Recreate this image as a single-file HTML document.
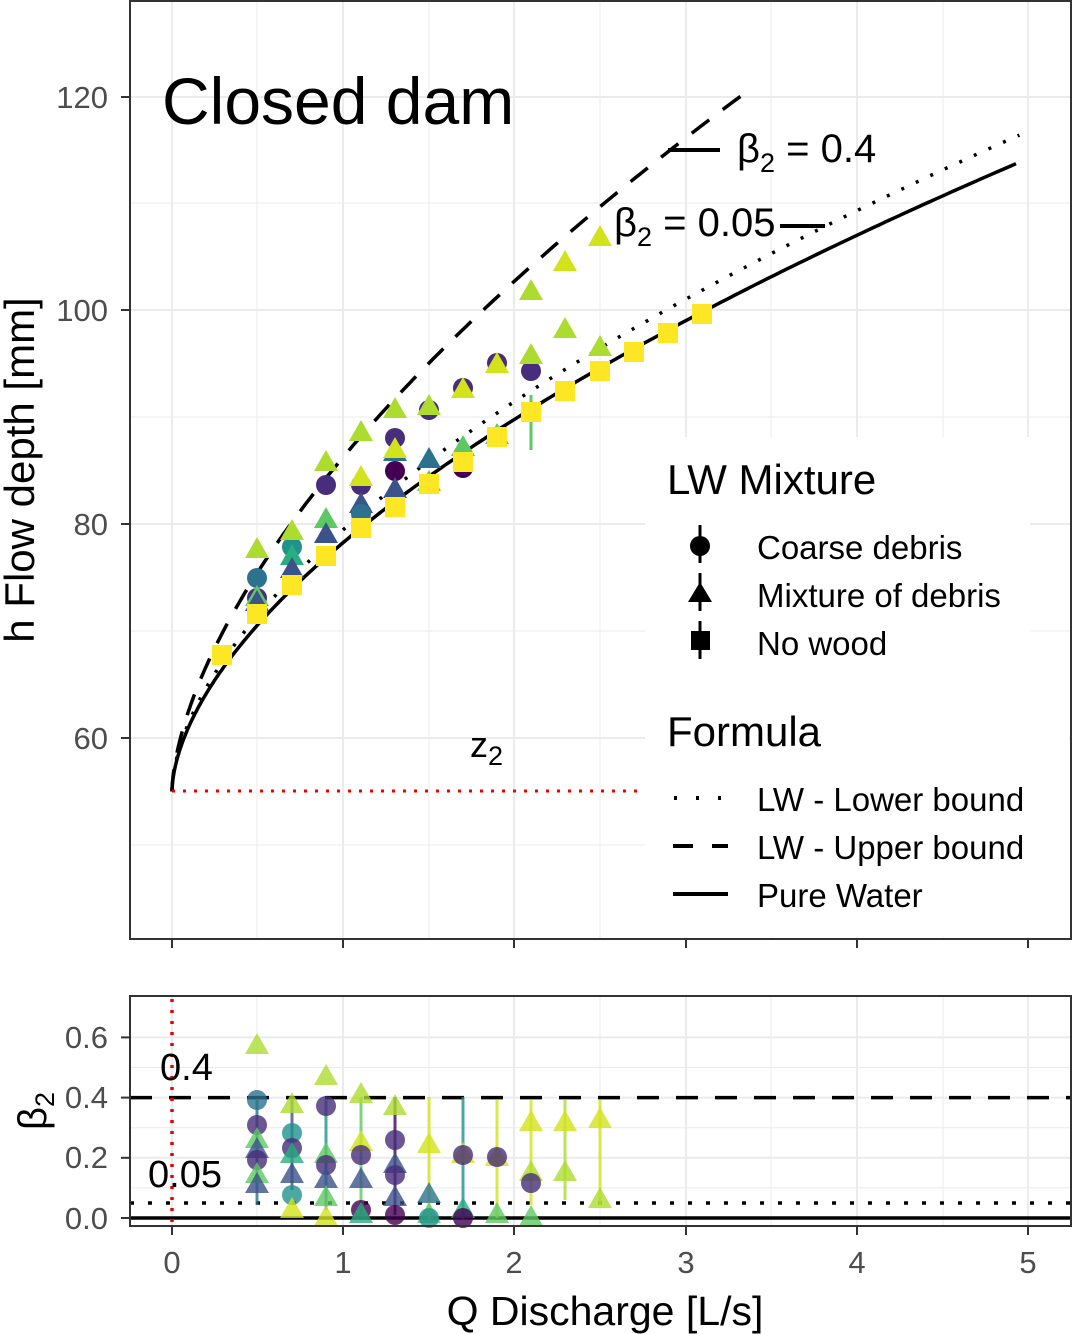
<!DOCTYPE html>
<html><head><meta charset="utf-8"><style>body{margin:0;background:#fff}svg{display:block}</style></head>
<body>
<svg id="s" width="1073" height="1334" xmlns="http://www.w3.org/2000/svg" font-family="Liberation Sans, sans-serif">
<rect width="1073" height="1334" fill="#fff"/>
<g id="grid" stroke="#ebebeb"></g>
<g id="curves" fill="none" stroke="#000" stroke-width="3.5"></g>
<line x1="172" y1="791" x2="640" y2="791" stroke="#e00" stroke-width="3" stroke-dasharray="3,8"/>
<g id="pts"></g>
<rect x="645" y="437" width="385" height="252" fill="#fff"/>
<rect x="645" y="689" width="424" height="248" fill="#fff"/>
<text x="667" y="494" font-size="42">LW Mixture</text>
<g stroke="#000" stroke-width="3"><line x1="700" y1="525" x2="700" y2="563"/><line x1="700" y1="573" x2="700" y2="611"/><line x1="700" y1="621" x2="700" y2="659"/></g>
<circle cx="700" cy="546" r="10"/><polygon points="700,582 712,602 688,602"/><rect x="691" y="631" width="19" height="19"/>
<g font-size="33"><text x="757" y="559">Coarse debris</text><text x="757" y="607">Mixture of debris</text><text x="757" y="655">No wood</text></g>
<text x="667" y="746" font-size="42">Formula</text>
<g stroke="#000" stroke-width="4"><line x1="674" y1="798" x2="730" y2="798" stroke-dasharray="3,19"/><line x1="673" y1="846" x2="728" y2="846" stroke-dasharray="20,19"/><line x1="673" y1="894" x2="728" y2="894"/></g>
<g font-size="33"><text x="757" y="811">LW - Lower bound</text><text x="757" y="859">LW - Upper bound</text><text x="757" y="907">Pure Water</text></g>
<text x="162" y="124" font-size="66">Closed dam</text>
<line x1="668" y1="150" x2="720" y2="150" stroke="#000" stroke-width="4"/>
<text x="737" y="162" font-size="40">β<tspan font-size="27" dy="10">2</tspan><tspan dy="-10"> = 0.4</tspan></text>
<line x1="780" y1="226" x2="825" y2="226" stroke="#000" stroke-width="4"/>
<text x="614" y="236" font-size="40">β<tspan font-size="27" dy="10">2</tspan><tspan dy="-10"> = 0.05</tspan></text>
<text x="470" y="757" font-size="36">z<tspan font-size="27" dy="8">2</tspan></text>
<rect x="130" y="1" width="941" height="938" fill="none" stroke="#333" stroke-width="2"/>
<rect x="130" y="996" width="941" height="230" fill="none" stroke="#333" stroke-width="2"/>
<g id="axes" stroke="#333" stroke-width="2"></g>
<g font-size="31" fill="#4d4d4d" text-anchor="end"><text x="108" y="108">120</text><text x="108" y="321">100</text><text x="108" y="535">80</text><text x="108" y="749">60</text>
<text x="108" y="1048">0.6</text><text x="108" y="1108">0.4</text><text x="108" y="1168">0.2</text><text x="108" y="1229">0.0</text></g>
<g font-size="31" fill="#4d4d4d" text-anchor="middle"><text x="172" y="1273">0</text><text x="343" y="1273">1</text><text x="514" y="1273">2</text><text x="686" y="1273">3</text><text x="857" y="1273">4</text><text x="1028" y="1273">5</text></g>
<text x="605" y="1325" font-size="41" text-anchor="middle">Q Discharge [L/s]</text>
<text transform="translate(34,470) rotate(-90)" font-size="42" text-anchor="middle">h Flow depth [mm]</text>
<text transform="translate(46,1111) rotate(-90)" font-size="40" text-anchor="middle">β<tspan font-size="27" dy="8">2</tspan></text>
<text x="160" y="1080" font-size="38">0.4</text>
<text x="148" y="1187" font-size="38">0.05</text>
</svg>
<script>
(function(){
const NS="http://www.w3.org/2000/svg";
function el(p,t,a){const e=document.createElementNS(NS,t);for(const k in a)e.setAttribute(k,a[k]);document.getElementById(p).appendChild(e);return e;}
const X=q=>172+q*171.2, Y=h=>738-(h-60)*10.68, Yb=b=>1218-b*301;
[172,343,514,686,857,1028].forEach(x=>{el('grid','line',{x1:x,y1:1,x2:x,y2:939,'stroke-width':2});el('grid','line',{x1:x,y1:996,x2:x,y2:1226,'stroke-width':2});});
[257,429,600,771,943].forEach(x=>{el('grid','line',{x1:x,y1:1,x2:x,y2:939,'stroke-width':1});el('grid','line',{x1:x,y1:996,x2:x,y2:1226,'stroke-width':1});});
[97,310,524,738].forEach(y=>el('grid','line',{x1:130,y1:y,x2:1071,y2:y,'stroke-width':2}));
[203,417,631,845].forEach(y=>el('grid','line',{x1:130,y1:y,x2:1071,y2:y,'stroke-width':1}));
[0,0.2,0.4,0.6].forEach(b=>el('grid','line',{x1:130,y1:Yb(b),x2:1071,y2:Yb(b),'stroke-width':2}));
[0.1,0.3,0.5].forEach(b=>el('grid','line',{x1:130,y1:Yb(b),x2:1071,y2:Yb(b),'stroke-width':1}));
[172,343,514,686,857,1028].forEach(x=>{el('axes','line',{x1:x,y1:939,x2:x,y2:948});el('axes','line',{x1:x,y1:1226,x2:x,y2:1235});});
[97,310,524,738].forEach(y=>el('axes','line',{x1:121,y1:y,x2:130,y2:y}));
[0,0.2,0.4,0.6].forEach(b=>el('axes','line',{x1:121,y1:Yb(b),x2:130,y2:Yb(b)}));
function curve(a,b,qmax,dash){let d='';for(let i=0;i<=200;i++){const q=qmax*Math.pow(i/200,1.6);const h=55+a*Math.pow(q,b);d+=(i?'L':'M')+X(q).toFixed(1)+','+Y(h).toFixed(1);}const p=el('curves','path',{d:d});if(dash)p.setAttribute('stroke-dasharray',dash);}
curve(23.3,0.58,4.93,null);
curve(24.5,0.575,4.95,'3,13');
curve(31.3,0.61,3.32,'22,17');
el('curves','line',{x1:130,y1:Yb(0),x2:1071,y2:Yb(0)});
el('curves','line',{x1:130,y1:Yb(0.4),x2:1071,y2:Yb(0.4),'stroke-dasharray':'22,17'});
el('curves','line',{x1:130,y1:Yb(0.05),x2:1071,y2:Yb(0.05),'stroke-dasharray':'4,14'});
el('curves','line',{x1:172,y1:999,x2:172,y2:1226,stroke:'#e00','stroke-dasharray':'3,8'});
function mk(g,shape,x,y,c,op){const o=op||1;if(shape=='c')el(g,'circle',{cx:x,cy:y,r:10,fill:c,'fill-opacity':o});
else if(shape=='t')el(g,'polygon',{points:x+','+(y-13)+' '+(x+12)+','+(y+8)+' '+(x-12)+','+(y+8),fill:c,'fill-opacity':o});
else el(g,'rect',{x:x-10,y:y-10,width:20,height:20,fill:c,'fill-opacity':o});}
const P='#472d7b',D='#440154',B='#3b528b',T='#2c728e',G='#21918c',E='#28ae80',L='#5ec962',YL='#addc30',K='#d2e21b',YY='#fde725';
el('pts','line',{x1:531,y1:395,x2:531,y2:450,stroke:L,'stroke-width':3});
const ptsTop=[
['c',257,578,T],['c',257,598,P],['t',257,598,L],['t',257,603,B],['t',257,550,YL],
['c',292,547,G],['t',292,557,E],['t',292,570,B],['t',292,532,YL],
['c',326,485,P],['t',326,520,L],['t',326,535,B],['t',326,463,YL],
['c',361,485,P],['t',361,478,K],['t',361,505,B],['c',361,514,T],['t',361,433,YL],
['c',395,438,P],['c',395,471,D],['t',395,453,T],['t',395,490,B],['t',395,410,YL],['t',395,450,K],
['c',429,410,P],['t',429,460,T],['t',429,483,L],['t',429,407,YL],
['c',463,388,P],['c',463,468,D],['t',463,448,L],['t',463,390,K],
['c',497,363,P],['t',497,436,L],['t',497,365,K],
['c',531,371,P],['t',531,292,YL],['t',531,356,YL],
['t',565,263,K],['t',565,330,YL],['t',600,238,K],['t',600,348,YL]];
ptsTop.forEach(p=>mk('pts',p[0],p[1],p[2],p[3]));
[[222,655],[257,614],[292,585],[326,556],[361,528],[395,507],[429,484],[463,462],[497,437],[531,412],[565,391],[600,371],[634,352],[668,333],[702,314]].forEach(p=>mk('pts','s',p[0],p[1],YY));
[[257,1100,1205,T],[292,1100,1190,B],[326,1100,1210,G],[361,1097,1215,L],[395,1097,1215,D],[429,1097,1220,K],[463,1097,1220,G],[497,1100,1218,K],[531,1100,1205,K],[565,1100,1200,YL],[600,1100,1205,K]].forEach(l=>el('pts','line',{x1:l[0],y1:l[1],x2:l[0],y2:l[2],stroke:l[3],'stroke-width':3,'stroke-opacity':.8}));
const ptsBot=[['t',257,1046,YL],['c',257,1100,T],['c',257,1125,P],['t',257,1140,L],['t',257,1150,B],['c',257,1160,P],['t',257,1175,L],['t',257,1185,B],
['t',292,1105,YL],['c',292,1133,G],['c',292,1148,P],['t',292,1155,E],['t',292,1175,B],['c',292,1195,G],['t',292,1210,K],
['c',326,1106,P],['t',326,1077,YL],['t',326,1155,L],['c',326,1165,P],['t',326,1180,B],['t',326,1198,L],['t',326,1218,K],
['t',361,1095,YL],['t',361,1143,K],['c',361,1155,P],['t',361,1180,B],['c',361,1210,D],['t',361,1215,E],
['t',395,1107,YL],['c',395,1140,P],['t',395,1165,B],['c',395,1175,P],['t',395,1198,B],['c',395,1215,D],
['t',429,1145,K],['t',429,1195,T],['t',429,1215,L],['c',429,1218,G],
['t',463,1155,K],['c',463,1155,P],['t',463,1210,E],['c',463,1218,D],
['t',497,1158,K],['c',497,1157,P],['t',497,1215,L],
['t',531,1123,K],['t',531,1173,YL],['c',531,1183,P],['t',531,1218,L],
['t',565,1123,K],['t',565,1173,YL],['t',600,1120,K],['t',600,1200,YL]];
ptsBot.forEach(p=>mk('pts',p[0],p[1],p[2],p[3],.8));
})();
</script>
</body></html>
